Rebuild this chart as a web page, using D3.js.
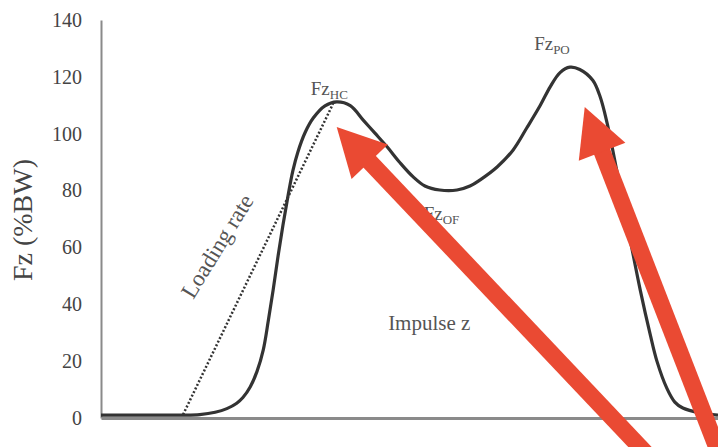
<!DOCTYPE html>
<html><head><meta charset="utf-8">
<script src="https://cdn.jsdelivr.net/npm/d3@7/dist/d3.min.js"></script>
<style>body{margin:0;background:#fff}svg{display:block}</style>
</head><body>
<script>
// Stance time (% of plotted width) and vertical GRF (%BW)
const stance = [0,7.9,13.3,16.0,18.5,20.4,22.0,23.0,24.2,25.3,26.3,27.1,27.9,28.7,29.5,30.3,31.1,31.9,33.1,34.4,36.3,38.2,40.4,42.5,44.4,46.4,48.5,50.6,52.5,54.9,57.7,59.8,61.4,64.2,66.8,69.0,71.2,72.8,74.4,76.0,77.6,79.7,80.9,82.0,83.6,85.3,87.4,89.0,90.1,91.7,93.0,94.3,97.1,100];
const fz = [1.0,1.0,1.0,1.2,2.0,3.3,5.2,7.2,11,16.5,24,34,45,57,68,78,87,93.5,100.5,105.5,109.8,111.2,109.9,104.8,100.2,95.3,89.7,84.8,81.6,80.2,80.2,81.6,83.7,88.3,94.3,102,110,116.5,121.5,123.4,122.6,118.8,113,104,87,68,45,29.5,20,10.5,5.6,3.5,1.8,1.0];
const yTicks = [0,20,40,60,80,100,120,140];
const loadingRate = [[13.3,1.2],[37.6,110.5]];
const peakLabels = [
  {main:"Fz", sub:"HC", x:34.0, y:113.5},
  {main:"Fz", sub:"PO", x:70.2, y:129.5},
  {main:"Fz", sub:"OF", x:52.3, y:69.5}
];
const arrows = [
  {tip:[38.2,102.4], tail:[90.1,-16.5]},
  {tip:[78.4,109.4], tail:[100.6,-14.8]}
];

const W=718,H=447;
const x = d3.scaleLinear().domain([0,100]).range([101,718]);
const y = d3.scaleLinear().domain([0,140]).range([418,20]);
const svg = d3.select("body").append("svg").attr("width",W).attr("height",H);
const serif = "'Liberation Serif','DejaVu Serif',serif";

// y axis
const ya = svg.append("g").attr("transform",`translate(${x(0)},0)`)
  .call(d3.axisLeft(y).tickValues(yTicks).tickSize(0).tickPadding(19));
ya.select(".domain").attr("stroke","#8a8a8a").attr("stroke-width",2);
ya.selectAll("text").attr("font-family",serif).attr("font-size",20).attr("fill","#444");
// x axis
const xa = svg.append("g").attr("transform",`translate(0,${y(0)})`)
  .call(d3.axisBottom(x).tickValues([]).tickSize(0));
xa.select(".domain").attr("stroke","#8a8a8a").attr("stroke-width",3);

svg.append("text").attr("transform",`translate(32,220) rotate(-90)`)
  .attr("text-anchor","middle").attr("font-family",serif).attr("font-size",28).attr("fill","#444")
  .text("Fz (%BW)");

// loading rate dotted line
svg.append("line")
  .attr("x1",x(loadingRate[0][0])).attr("y1",y(loadingRate[0][1]))
  .attr("x2",x(loadingRate[1][0])).attr("y2",y(loadingRate[1][1]))
  .attr("stroke","#333").attr("stroke-width",2.5).attr("stroke-dasharray","2,2");

// curve
const data = stance.map((s,i)=>[s,fz[i]]);
svg.append("path").datum(data)
  .attr("d",d3.line().x(d=>x(d[0])).y(d=>y(d[1])).curve(d3.curveCatmullRom.alpha(0.5)))
  .attr("fill","none").attr("stroke","#333").attr("stroke-width",3.2);

// labels
peakLabels.forEach(p=>{
  const t = svg.append("text").attr("x",x(p.x)).attr("y",y(p.y))
    .attr("font-family",serif).attr("font-size",19).attr("fill","#555");
  t.append("tspan").text(p.main);
  t.append("tspan").attr("font-size",13).attr("dy",4).text(p.sub);
});
svg.append("text").attr("transform",`translate(${x(19.9)},${y(59)}) rotate(-58.5)`)
  .attr("text-anchor","middle").attr("font-family",serif).attr("font-size",23).attr("fill","#555")
  .text("Loading rate");
svg.append("text").attr("x",x(53.2)).attr("y",y(31)).attr("text-anchor","middle")
  .attr("font-family",serif).attr("font-size",21).attr("fill","#555").text("Impulse z");

// red arrows
const red="#ea4a33";
arrows.forEach(a=>{
  const tx=x(a.tip[0]),ty=y(a.tip[1]),lx=x(a.tail[0]),ly=y(a.tail[1]);
  const dx=lx-tx,dy=ly-ty,len=Math.hypot(dx,dy),ux=dx/len,uy=dy/len;
  const hl=48,hw=25;
  const bx=tx+ux*hl,by=ty+uy*hl;
  svg.append("line").attr("x1",bx-ux*2).attr("y1",by-uy*2).attr("x2",lx).attr("y2",ly)
    .attr("stroke",red).attr("stroke-width",17);
  svg.append("path").attr("d",`M${tx},${ty}L${bx-uy*hw},${by+ux*hw}L${bx+uy*hw},${by-ux*hw}Z`)
    .attr("fill",red);
});
</script>
</body></html>
